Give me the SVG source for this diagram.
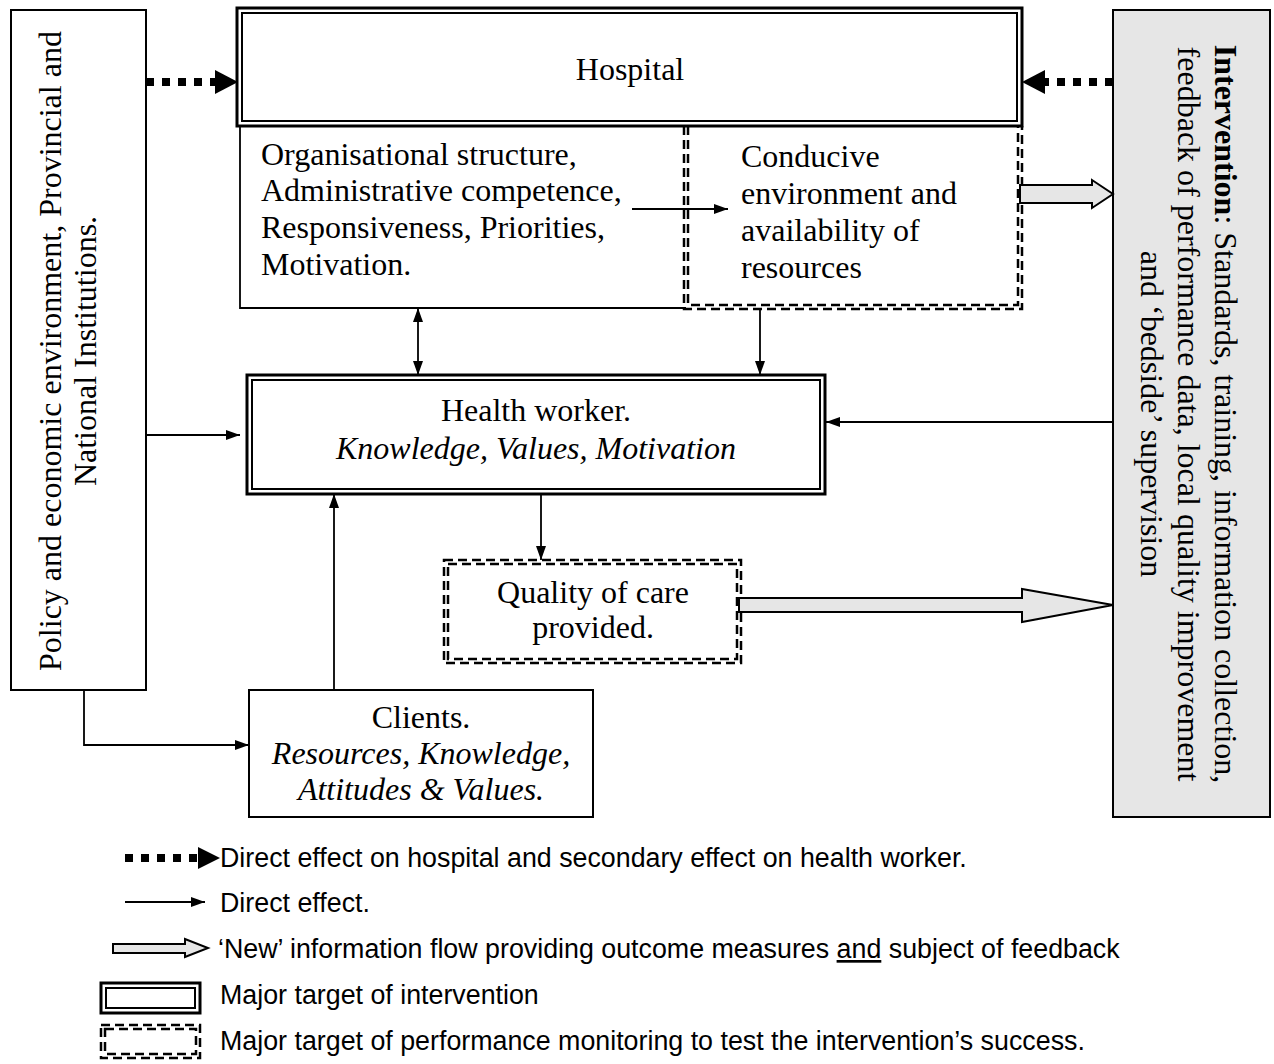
<svg xmlns="http://www.w3.org/2000/svg" width="1274" height="1064" viewBox="0 0 1274 1064">
<style>
.s{font-family:"Liberation Serif","Times New Roman",serif;font-size:32px;fill:#000}
.i{font-style:italic}
.a{font-family:"Liberation Sans",Arial,sans-serif;font-size:26.8px;fill:#000}
.box{fill:#fff;stroke:#000;stroke-width:2}
.dbo{fill:none;stroke:#000;stroke-width:3}
.dbi{fill:none;stroke:#000;stroke-width:2}
.dash{fill:none;stroke:#000;stroke-width:2.5;stroke-dasharray:9 5}
.ln{fill:none;stroke:#000;stroke-width:1.8}
.dot{fill:none;stroke:#000;stroke-width:8;stroke-dasharray:8 8}
.grey{fill:#e6e6e6;stroke:#000;stroke-width:2}
</style>
<defs>
<marker id="ah" viewBox="0 0 14 10" refX="14" refY="5" markerWidth="14" markerHeight="10" markerUnits="userSpaceOnUse" orient="auto-start-reverse">
<path d="M0,0 L14,5 L0,10 Z" fill="#000"/>
</marker>
</defs>

<g id="policy">
<rect class="box" x="11" y="10" width="135" height="680"/>
<text class="s" text-anchor="middle" transform="translate(61,351) rotate(-90)">Policy and economic environment,  Provincial and</text>
<text class="s" text-anchor="middle" transform="translate(96,351) rotate(-90)">National Institutions.</text>
</g>

<g id="hospital">
<rect x="237" y="8" width="785" height="118" fill="#fff" class="dbo"/>
<rect class="dbi" x="242" y="13" width="775" height="108"/>
<text class="s" x="630" y="80" text-anchor="middle">Hospital</text>
</g>

<g id="organisation">
<path class="ln" d="M240,126 V308 H686"/>
<text class="s" x="261" y="165">Organisational structure,</text>
<text class="s" x="261" y="201">Administrative competence,</text>
<text class="s" x="261" y="238">Responsiveness, Priorities,</text>
<text class="s" x="261" y="275">Motivation.</text>
</g>

<g id="conducive">
<path class="dash" d="M684,126 V309 H1022 V126"/>
<path class="dash" d="M688,126 V305 H1018 V126"/>
<text class="s" x="741" y="167">Conducive</text>
<text class="s" x="741" y="204">environment and</text>
<text class="s" x="741" y="241">availability of</text>
<text class="s" x="741" y="278">resources</text>
</g>

<g id="intervention">
<rect class="grey" x="1113" y="10" width="157" height="807"/>
<text class="s" text-anchor="middle" transform="translate(1215,414) rotate(90)"><tspan font-weight="bold">Intervention</tspan>: Standards, training, information collection,</text>
<text class="s" text-anchor="middle" transform="translate(1178,414) rotate(90)">feedback of performance data, local quality improvement</text>
<text class="s" text-anchor="middle" transform="translate(1141,414) rotate(90)">and ‘bedside’ supervision</text>
</g>

<g id="healthworker">
<rect x="247" y="375" width="578" height="119" fill="#fff" class="dbo"/>
<rect class="dbi" x="252" y="380" width="568" height="109"/>
<text class="s" x="536" y="421" text-anchor="middle">Health worker.</text>
<text class="s i" x="536" y="459" text-anchor="middle">Knowledge, Values, Motivation</text>
</g>

<g id="quality">
<rect class="dash" x="444" y="560" width="297" height="103"/>
<rect class="dash" x="448" y="564" width="289" height="95"/>
<text class="s" x="593" y="603" text-anchor="middle" font-size="27.5">Quality of care</text>
<text class="s" x="593" y="638" text-anchor="middle" font-size="27.5">provided.</text>
</g>

<g id="clients">
<rect class="box" x="249" y="690" width="344" height="127"/>
<text class="s" x="421" y="728" text-anchor="middle">Clients.</text>
<text class="s i" x="421" y="764" text-anchor="middle">Resources, Knowledge,</text>
<text class="s i" x="421" y="800" text-anchor="middle">Attitudes &amp; Values.</text>
</g>

<g id="connectors">
<line class="dot" x1="146" y1="82" x2="215" y2="82"/>
<polygon points="215,70 238,82 215,94" fill="#000"/>
<line class="dot" x1="1113" y1="82" x2="1045" y2="82"/>
<polygon points="1045,70 1022,82 1045,94" fill="#000"/>
<line class="ln" x1="632" y1="209" x2="728" y2="209" marker-end="url(#ah)"/>
<line class="ln" x1="418" y1="308" x2="418" y2="375" marker-start="url(#ah)" marker-end="url(#ah)"/>
<line class="ln" x1="760" y1="309" x2="760" y2="375" marker-end="url(#ah)"/>
<line class="ln" x1="146" y1="435" x2="240" y2="435" marker-end="url(#ah)"/>
<line class="ln" x1="1113" y1="422" x2="826" y2="422" marker-end="url(#ah)"/>
<line class="ln" x1="541" y1="494" x2="541" y2="560" marker-end="url(#ah)"/>
<line class="ln" x1="334" y1="690" x2="334" y2="494" marker-end="url(#ah)"/>
<path class="ln" d="M84,690 V745 H249" marker-end="url(#ah)"/>
<polygon class="grey" points="1020,185 1092,185 1092,180 1113,194 1092,208 1092,203 1020,203"/>
<polygon class="grey" points="739,598 1022,598 1022,589 1113,605 1022,622 1022,612 739,612"/>
</g>

<g id="legend">
<line class="dot" x1="125" y1="858" x2="198" y2="858" stroke-width="7" stroke-dasharray="7 6"/>
<polygon points="198,847 220,858 198,869" fill="#000"/>
<text class="a" x="220" y="867">Direct effect on hospital and secondary effect on health worker.</text>
<line class="ln" x1="125" y1="902" x2="205" y2="902" marker-end="url(#ah)"/>
<text class="a" x="220" y="912">Direct effect.</text>
<polygon class="grey" points="113,944 185,944 185,939 208,948 185,957 185,953 113,953"/>
<text class="a" x="218" y="958">‘New’ information flow providing outcome measures <tspan text-decoration="underline">and</tspan> subject of feedback</text>
<rect class="dbo" x="101" y="983" width="99" height="30"/>
<rect class="dbi" x="106" y="988" width="89" height="20"/>
<text class="a" x="220" y="1004">Major target of intervention</text>
<rect class="dash" x="101" y="1025" width="99" height="33"/>
<rect class="dash" x="105" y="1029" width="91" height="25"/>
<text class="a" x="220" y="1050">Major target of performance monitoring to test the intervention’s success.</text>
</g>
</svg>
